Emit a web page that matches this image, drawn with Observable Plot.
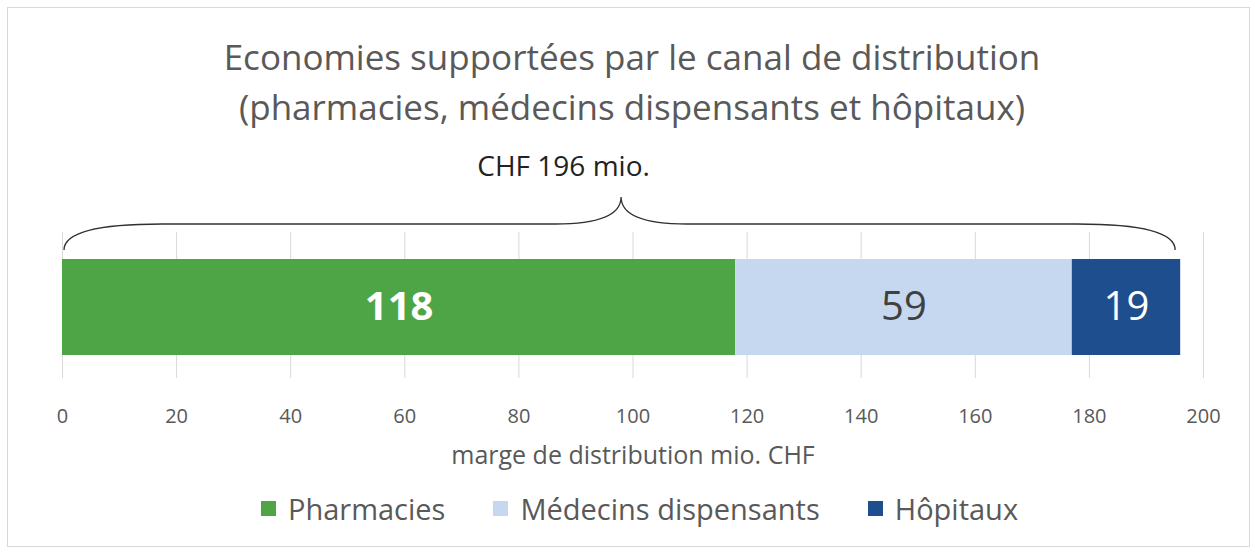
<!DOCTYPE html>
<html>
<head>
<meta charset="utf-8">
<script src="https://cdn.jsdelivr.net/npm/d3@7"></script>
<script src="https://cdn.jsdelivr.net/npm/@observablehq/plot@0.6"></script>
<style>
  html, body { margin: 0; padding: 0; background: #fff; }
  body { width: 1255px; height: 552px; position: relative; overflow: hidden; font-family: "Open Sans", sans-serif; }
  #frame { position: absolute; left: 7px; top: 7px; width: 1243px; height: 540px; border: 1px solid #d9d9d9; box-sizing: border-box; }
  #title { position: absolute; left: 0; top: 32px; width: 1264px; text-align: center; color: #595959; font-size: 35px; line-height: 50px; }
  #chart { position: absolute; left: 0; top: 140px; }
  #legend { position: absolute; left: 12px; top: 489px; width: 1255px; }
  #legend .leg-swatches { font-family: "Open Sans", sans-serif; font-size: 29px; color: #595959; justify-content: center; margin: 0; }
  #legend .leg-swatch { margin-right: 48px; }
  #legend .leg-swatch:last-child { margin-right: 0; }
  #legend .leg-swatch > svg { margin-right: 12px; }
</style>
</head>
<body>
<div id="frame"></div>
<div id="title"></div>
<div id="chart"></div>
<div id="legend"></div>
<script>
// ---- data ----
const titleLines = ["Economies supportées par le canal de distribution", "(pharmacies, médecins dispensants et hôpitaux)"];
const categories = ["Pharmacies", "Médecins dispensants", "Hôpitaux"];
const values = [118, 59, 19];
const xTicks = [0, 20, 40, 60, 80, 100, 120, 140, 160, 180, 200];
const xLabel = "marge de distribution mio. CHF";
const totalPrefix = "CHF";
const totalSuffix = "mio.";

// ---- styles ----
const colors = ["#4ea546", "#c6d8ef", "#1f4e8e"];
const labelStyles = {
  "Pharmacies": {fill: "#ffffff", fontWeight: "bold"},
  "Médecins dispensants": {fill: "#404040", fontWeight: "normal"},
  "Hôpitaux": {fill: "#ffffff", fontWeight: "normal"}
};

const data = categories.map((c, i) => ({category: c, value: values[i]}));
const total = d3.sum(values);

document.getElementById("title").innerHTML = titleLines.map(t => `<div>${t}</div>`).join("");

const brace = (index, scales, vals, dims) => {
  const x = scales.x;
  const x0 = x(0) + 2, x1 = x(total) - 5, xm = x(total / 2);
  const t = dims.marginTop;
  const yb = t + 18, ya = t - 8, yt = t - 35;
  const d = `M${x0},${yb} C${x0},${ya + 8} ${x0 + 36},${ya} ${x0 + 98},${ya} L${xm - 66},${ya} C${xm - 25},${ya} ${xm},${ya - 8} ${xm},${yt} C${xm},${ya - 8} ${xm + 25},${ya} ${xm + 66},${ya} L${x1 - 98},${ya} C${x1 - 36},${ya} ${x1},${ya + 8} ${x1},${yb}`;
  return d3.create("svg:path").attr("d", d).attr("fill", "none").attr("stroke", "#303030").attr("stroke-width", 1.3).node();
};

const labelMarks = categories.map(cat => Plot.text(data, Plot.stackX({
  x: "value",
  order: null,
  text: d => d.category === cat ? String(d.value) : null,
  fontSize: 40,
  dy: 2,
  ...labelStyles[cat]
})));

const chart = Plot.plot({
  width: 1255,
  height: 360,
  marginLeft: 62,
  marginRight: 52,
  marginTop: 92,
  marginBottom: 122,
  style: {fontFamily: "'Open Sans', sans-serif", background: "transparent"},
  x: {domain: [0, 200]},
  color: {domain: categories, range: colors},
  marks: [
    Plot.gridX(xTicks, {stroke: "#d9d9d9", strokeOpacity: 1, strokeWidth: 1}),
    Plot.barX(data, Plot.stackX({x: "value", fill: "category", order: null, insetTop: 27, insetBottom: 23})),
    ...labelMarks,
    brace,
    Plot.text([total], {x: d => d / 2, text: d => `${totalPrefix} ${d} ${totalSuffix}`, frameAnchor: "top", dx: -58, dy: -76, fontSize: 28, fill: "#222222"}),
    Plot.axisX({ticks: xTicks, tickSize: 0, tickPadding: 30, fontSize: 20, color: "#595959", label: null}),
    Plot.text([xLabel], {frameAnchor: "bottom", dy: 85, fontSize: 25, fill: "#595959"})
  ]
});
document.getElementById("chart").appendChild(chart);

const legend = chart.legend("color", {className: "leg", swatchSize: 15});
document.getElementById("legend").appendChild(legend);
</script>
</body>
</html>
